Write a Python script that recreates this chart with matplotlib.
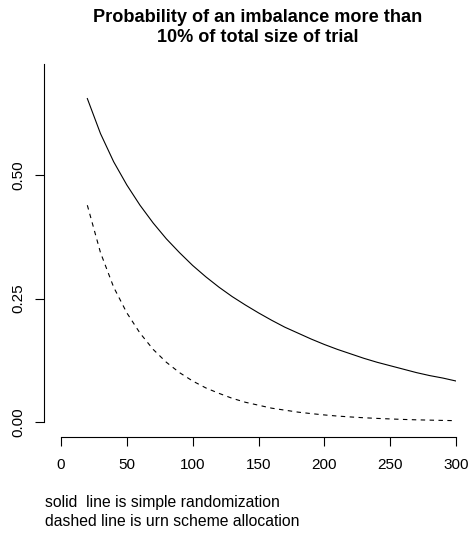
import matplotlib
matplotlib.use('Agg')
import matplotlib.pyplot as plt

plt.rcParams['font.family'] = ['Liberation Sans', 'DejaVu Sans']

# trial size and probability of an imbalance above 10% of the trial size
trialSize = [20, 30, 40, 50, 60, 70, 80, 90, 100, 110, 120, 130, 140, 150, 160,
             170, 180, 190, 200, 210, 220, 230, 240, 250, 260, 270, 280, 290, 300]
probSimple = [0.655, 0.584, 0.527, 0.480, 0.439, 0.403, 0.371, 0.343, 0.317, 0.294,
              0.273, 0.254, 0.237, 0.221, 0.206, 0.192, 0.180, 0.168, 0.157, 0.147,
              0.138, 0.129, 0.121, 0.114, 0.107, 0.100, 0.094, 0.089, 0.083]
probUrn = [0.439, 0.343, 0.273, 0.221, 0.180, 0.147, 0.121, 0.100, 0.083, 0.069,
           0.058, 0.048, 0.040, 0.034, 0.028, 0.024, 0.020, 0.017, 0.0143, 0.012,
           0.0102, 0.0086, 0.0073, 0.0062, 0.0052, 0.0044, 0.0038, 0.0032, 0.0027]

xTicks = [0, 50, 100, 150, 200, 250, 300]
yTicks = [0.0, 0.25, 0.5]
yTickLabels = ['0.00', '0.25', '0.50']

W, H = 468, 533
fig = plt.figure(figsize=(W / 100, H / 100), dpi=100)
ax = fig.add_axes([61 / W, (H - 422) / H, (456 - 61) / W, (422 - 64) / H])

ax.plot(trialSize, probSimple, color='black', lw=0.8)
ax.plot(trialSize, probUrn, color='black', lw=0.8, linestyle=(0, (4, 4)))

ax.set_xlim(0, 300)
ax.set_ylim(0, 0.725)

for side in ['top', 'right']:
    ax.spines[side].set_visible(False)
ax.spines['left'].set_position(('outward', 12.2))
ax.spines['bottom'].set_position(('outward', 10.6))
ax.spines['bottom'].set_bounds(0, 300)
for side in ['left', 'bottom']:
    ax.spines[side].set_linewidth(0.8)

ax.set_xticks(xTicks)
ax.set_yticks(yTicks)
ax.set_yticklabels(yTickLabels, rotation=90, va='center')
ax.tick_params(axis='both', length=6.5, width=0.8, labelsize=11, color='black')
ax.tick_params(axis='x', pad=9)
ax.tick_params(axis='y', pad=7)

fig.text(258 / W, 1 - 17 / H, 'Probability of an imbalance more than',
         ha='center', va='center', fontsize=13.1, fontweight='bold')
fig.text(258 / W, 1 - 38 / H, '10% of total size of trial',
         ha='center', va='center', fontsize=13.1, fontweight='bold')

fig.text(45 / W, 1 - 503 / H, 'solid  line is simple randomization',
         ha='left', va='center', fontsize=11.3)
fig.text(45 / W, 1 - 522 / H, 'dashed line is urn scheme allocation',
         ha='left', va='center', fontsize=11.3)

fig.savefig('out.png', dpi=100)
